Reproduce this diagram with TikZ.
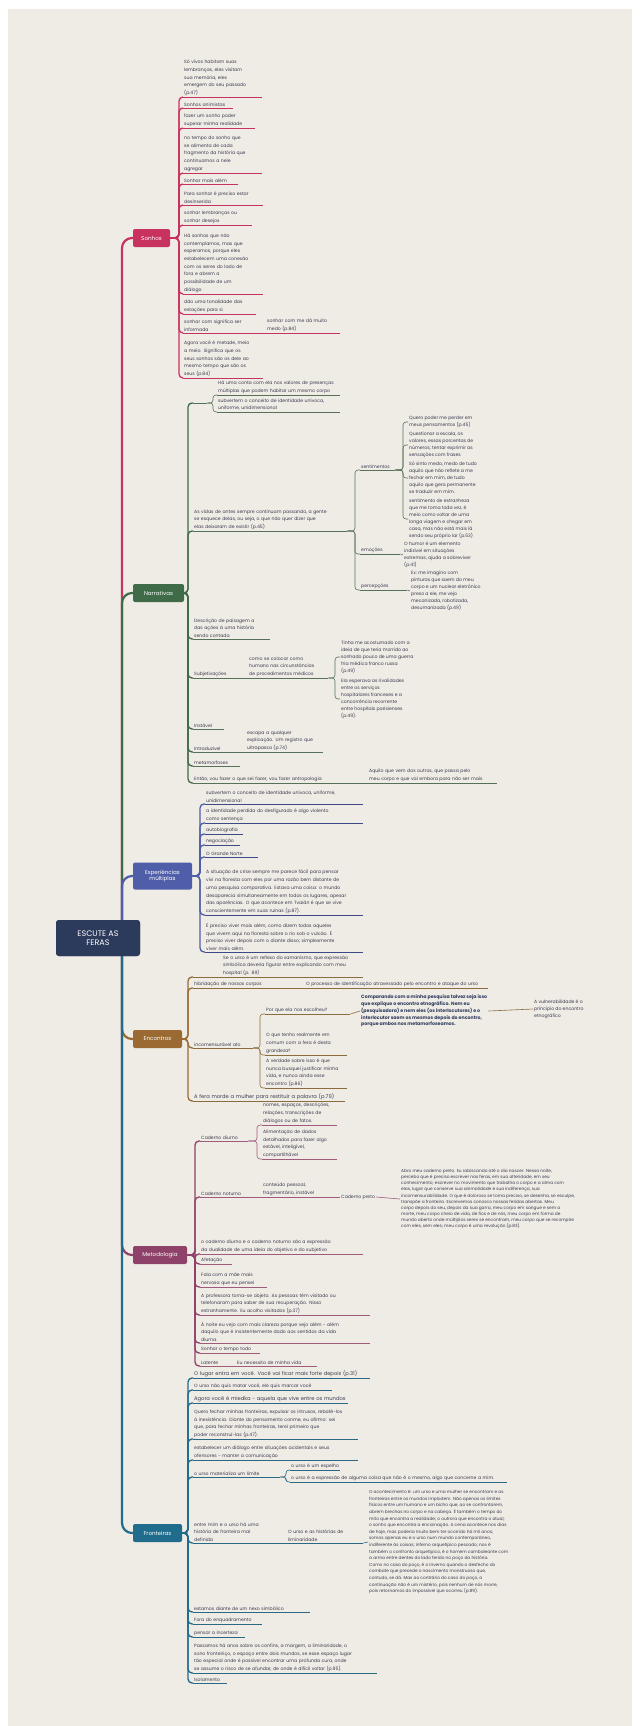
\documentclass[tikz,border=0pt]{standalone}
\usepackage{fontspec}
\setmainfont{Poppins}
\usetikzlibrary{calc}
\definecolor{bg}{HTML}{EFECE6}
\definecolor{txt}{HTML}{3A3A4E}
\definecolor{cS}{HTML}{C8325F}
\definecolor{cN}{HTML}{3F6B49}
\definecolor{cE}{HTML}{4F5EA8}
\definecolor{cC}{HTML}{9A6A32}
\definecolor{cM}{HTML}{8E4169}
\definecolor{cF}{HTML}{1F6C8C}
\definecolor{lN}{HTML}{56705A}
\definecolor{lE}{HTML}{3E4A88}
\definecolor{lC}{HTML}{8A6C3E}
\definecolor{lM}{HTML}{A05A7C}
\definecolor{lF}{HTML}{2B6884}
\definecolor{rootc}{HTML}{2C3A5C}
\newcommand\tx{\fontsize{4.6}{7.7}\selectfont}
\newcommand\tf{\fontsize{4.6}{7.0}\selectfont}
\newcommand\tb{\fontsize{4.3}{6.1}\selectfont}
\newcommand\tl{\fontsize{5.2}{7.7}\selectfont}
\tikzset{
 kid/.style={font=\tx, text=txt, align=left, inner xsep=1pt, inner ysep=1.2pt, anchor=south west},
 ul/.style={line width=0.9pt},
 br/.style={line width=1.3pt, rounded corners=4pt},
 sub/.style={line width=0.6pt, rounded corners=3pt},
 rt/.style={line width=2.2pt, rounded corners=10pt},
 topic/.style={fill=#1, text=white, rounded corners=2pt, font=\fontsize{5.6}{6.6}\selectfont, inner xsep=2pt, inner ysep=2pt, align=center},
 free/.style={font=\tf, text=txt, align=left, inner sep=1pt, anchor=west},
}
\newcommand\kid[6]{\pgfmathsetmacro\kw{#5-#3-2}\node[kid,text width=\kw pt] (#2) at (#3,#4) {#6};\draw[ul,#1] (#2.south west) -- (#2.south east);}
\newcommand\kidb[6]{\pgfmathsetmacro\kw{#5-#3-2}\node[kid,font=\tl,text width=\kw pt] (#2) at (#3,#4) {#6};\draw[ul,#1] (#2.south west) -- (#2.south east);}
\newcommand\con[4]{\draw[#1] (#2) -| ([xshift=-#4pt]#3) -- (#3);}
\begin{document}
\begin{tikzpicture}[x=1pt,y=-1pt]
\useasboundingbox (0,0) rectangle (640,1726);
\fill[white] (0,0) rectangle (640,1726);
\fill[bg] (8,9) rectangle (632,1726);

% ---------- topic boxes ----------
\node[topic=rootc, minimum width=84pt, minimum height=36pt, font=\fontsize{8}{9.6}\selectfont, rounded corners=3pt] (root) at (98,938) {ESCUTE AS\\FERAS};
\draw[rt,cS] ([xshift=24pt]root.center) |- (133,238) coordinate (rS);
\draw[rt,cN] ([xshift=24pt]root.center) |- (133,593) coordinate (rN);
\draw[rt,cE] ([xshift=24pt]root.center) |- (133,876) coordinate (rE);
\draw[rt,cC] ([xshift=24pt]root.center) |- (133,1039) coordinate (rC);
\draw[rt,cM] ([xshift=24pt]root.center) |- (133,1255) coordinate (rM);
\draw[rt,cF] ([xshift=24pt]root.center) |- (133,1533) coordinate (rF);
\node[topic=rootc, minimum width=84pt, minimum height=36pt, font=\fontsize{8}{9.6}\selectfont, rounded corners=3pt] at (98,938) {ESCUTE AS\\FERAS};
\node[topic=cS, minimum width=37pt, minimum height=18pt] (sonhos) at (151.5,238) {Sonhos};
\node[topic=cN, minimum width=51pt, minimum height=18pt] (narr) at (158.5,593) {Narrativas};
\node[topic=cE, minimum width=59pt, minimum height=27pt] (exp) at (162.5,876) {Experiências\\múltiplas};
\node[topic=cC, minimum width=49pt, minimum height=18pt] (enc) at (157.5,1039) {Encontros};
\node[topic=cM, minimum width=54pt, minimum height=18pt] (met) at (160,1255) {Metodologia};
\node[topic=cF, minimum width=49pt, minimum height=18pt] (fro) at (157.5,1533) {Fronteiras};

% ---------- Sonhos ----------
\kid{cS}{s1}{183}{97}{262}{Só vivos habitam suas\\lembranças, eles visitam\\sua memória, eles\\emergem do seu passado\\(p.47)}
\kid{cS}{s2}{183}{108}{233}{Sonhos animistas}
\kid{cS}{s3}{183}{128}{255}{fazer um sonho poder\\superar minha realidade}
\kid{cS}{s4}{183}{173}{262}{no tempo do sonho que\\se alimenta de cada\\fragmento da história que\\continuamos a nele\\agregar}
\kid{cS}{s5}{183}{184}{238}{Sonhar mais além}
\kid{cS}{s6}{183}{205}{263}{Para sonhar é preciso estar\\desinserida}
\kid{cS}{s7}{183}{225}{252}{sonhar lembranças ou\\sonhar desejos}
\kid{cS}{s8}{183}{294}{263}{Há sonhos que não\\contemplamos, mas que\\esperamos, porque eles\\estabelecem uma conexão\\com os seres do lado de\\fora e abrem a\\possibilidade de um\\diálogo}
\kid{cS}{s9}{183}{314}{256}{dão uma tonalidade das\\estações para si}
\kid{cS}{s10}{183}{333}{262}{sonhar com significa ser\\informada}
\kid{cS}{s10a}{266}{333}{340}{sonhar com me dá muito\\medo (p.84)}
\draw[ul,cS] (s10.south east) -- (s10a.south west);
\kid{cS}{s11}{183}{378}{263}{Agora você é metade, meio\\a meio. Significa que os\\seus sonhos são os dele ao\\mesmo tempo que são os\\seus (p.84)}
\foreach \k in {s1,s2,s3,s4,s5,s6,s7,s8,s9,s10,s11}{\con{br,cS}{sonhos.east}{\k.south west}{4}}

% ---------- Narrativas ----------
\kid{lN}{n0}{193}{403}{207}{}
\kid{lN}{n0a}{217}{395}{340}{Há uma conta com ela nos valores de presenças\\múltiplas que podem habitar um mesmo corpo}
\kid{lN}{n0b}{217}{412}{340}{subvertem o conceito de identidade unívoca,\\uniforme, unidimensional}
\con{sub,lN}{n0.south east}{n0a.south west}{4}
\con{sub,lN}{n0.south east}{n0b.south west}{4}
\kid{lN}{n1}{193}{531}{347}{As vidas de antes sempre continuam passando, a gente\\se esquece delas, ou seja, o que não quer dizer que\\elas deixaram de existir (p.45)}
\kid{lN}{n1a}{360}{470}{395}{sentimentos}
\kid{lN}{n1b}{360}{554}{400}{emoções}
\kid{lN}{n1c}{360}{590}{407}{percepções}
\foreach \k in {n1a,n1b,n1c}{\con{sub,lN}{n1.south east}{\k.south west}{5}}
\node[free] (n1a1) at (408,422) {Quero poder me perder em\\meus pensamentos (p.45)};
\node[free] (n1a2) at (408,445) {Questionar a escala, os\\valores, essas porcentas de\\números; tentar exprimir as\\sensações com frases};
\node[free] (n1a3) at (408,478) {Só sinto medo, medo de tudo\\aquilo que não reflete a me\\fechar em mim, de tudo\\aquilo que gera permanente\\se traduzir em mim.};
\node[free] (n1a4) at (408,519) {sentimento de estranheza\\que me toma toda vez, é\\meio como voltar de uma\\longa viagem e chegar em\\casa, mas não está mais lá\\sendo seu próprio lar (p.53)};
\foreach \k in {n1a1,n1a2,n1a3,n1a4}{\con{sub,lN}{n1a.south east}{\k.west}{5}}
\node[free] (n1b1) at (403,555) {O humor é um elemento\\indizível em situações\\extremas; ajuda a sobreviver\\(p.41)};
\draw[sub,lN] (n1b.south east) -- (n1b1.west);
\node[free] (n1c1) at (410,591) {Ex: me imagino com\\pinturas que saem do meu\\corpo e um nuclear eletrônico\\preso a ele, me vejo\\mecanizada, robotizada,\\desumanizada (p.49)};
\draw[sub,lN] (n1c.south east) -- (n1c1.west);
\kid{lN}{n2}{193}{639}{270}{Descrição de paisagem a\\das ações à uma história\\sendo contada}
\kid{lN}{n3}{193}{678}{240}{Subjetivações}
\kid{lN}{n3a}{248}{678}{328}{como se colocar como\\humano nas circunstâncias\\de procedimentos médicos}
\draw[ul,lN] (n3.south east) -- (n3a.south west);
\node[free] (n3a1) at (340,657) {Tinha me acostumado com a\\ideia de que teria morrido ao\\sonhado pouco de uma guerra\\fria médica franco russa\\(p.49)};
\node[free] (n3a2) at (340,699) {Ela esperava as rivalidades\\entre os serviços\\hospitalares franceses e a\\concorrência recorrente\\entre hospitais parisienses\\(p.49).};
\con{sub,lN}{n3a.south east}{n3a1.west}{5}
\con{sub,lN}{n3a.south east}{n3a2.west}{5}
\kid{lN}{n4}{193}{729}{224}{Instável}
\kid{lN}{n5}{193}{752}{240}{Intraduzível}
\kid{lN}{n5a}{246}{752}{323}{escapa a qualquer\\explicação. Um registro que\\ultrapassa (p.74)}
\draw[ul,lN] (n5.south east) -- (n5a.south west);
\kid{lN}{n6}{193}{766}{240}{metamorfoses}
\kid{lN}{n7}{193}{783}{345}{Então, vou fazer o que sei fazer, vou fazer antropologia}
\kid{lN}{n7a}{368}{783}{497}{Aquilo que vem dos outros, que passa pelo\\meu corpo e que vai embora para não ser mais}
\draw[ul,lN] (n7.south east) -- (n7a.south west);
\foreach \k in {n0,n1,n2,n3,n4,n5,n6,n7}{\con{br,cN}{narr.east}{\k.south west}{5}}

% ---------- Experiências múltiplas ----------
\kid{lE}{e1}{205}{804}{363}{subvertem o conceito de identidade unívoca, uniforme,\\unidimensional}
\kid{lE}{e2}{205}{823}{363}{a identidade perdida do desfigurado é algo violento\\como sentença}
\kid{lE}{e3}{205}{834}{243}{autobiografia}
\kid{lE}{e4}{205}{845}{240}{negociação}
\kid{lE}{e5}{205}{857}{258}{O Grande Norte}
\kid{lE}{e6}{205}{915}{363}{A situação de crise sempre me parece fácil para pensar\\vivi na floresta com eles por uma razão bem distante de\\uma pesquisa comparativa. Estava uma coisa: o mundo\\desaparecia simultaneamente em todos os lugares, apesar\\das aparências. O que acontece em Tvaián é que se vive\\conscientemente em suas ruínas (p.87).}
\kid{lE}{e7}{205}{952}{363}{É preciso viver mais além, como dizem todos aqueles\\que vivem aqui na floresta sobre o rio sob o vulcão. É\\preciso viver depois com o diante disso; simplesmente\\viver mais além.}
\foreach \k in {e1,e2,e3,e4,e5,e6,e7}{\con{br,cE}{exp.east}{\k.south west}{5}}

% ---------- Encontros ----------
\node[kid,text width=139pt] (c1) at (222,977) {Se o urso é um reflexo do xamanismo, que expressão\\simbólica deveria figurar entre explicando com meu\\hospital (p. 89)};
\coordinate (c1s) at ([xshift=-29pt]c1.south west);
\draw[ul,lC] (c1s) -- (c1.south east);
\kid{lC}{c2}{193}{988}{268}{hibridação de nossos corpos}
\kid{lC}{c2a}{305}{988}{488}{O processo de identificação atravessado pelo encontro e ataque do urso}
\draw[ul,lC] (c2.south east) -- (c2a.south west);
\kid{lC}{c3}{193}{1048}{253}{incomensurável ato}
\kid{lC}{c3a}{265}{1014}{350}{Por que ela nos escolheu?}
\kid{lC}{c3b}{265}{1055}{347}{O que tenho realmente em\\comum com a fera é desta\\grandeza?}
\kid{lC}{c3c}{265}{1088}{347}{A verdade sobre isso é que\\nunca busquei justificar minha\\vida, e nunca ainda esse\\encontro (p.86)}
\foreach \k in {c3a,c3b,c3c}{\con{sub,lC}{c3.south east}{\k.south west}{5}}
\node[free, font=\fontsize{4.7}{6.8}\selectfont\bfseries, text=rootc] (c3a1) at (360,1011) {Comparando com a minha pesquisa talvez seja isso\\que explique o encontro etnográfico. Nem eu\\(pesquisadora) e nem eles (os interlocutores) e o\\interlocutor saem os mesmos depois do encontro,\\porque ambos nos metamorfoseamos.};
\draw[sub,lC] (c3a.south east) -- (c3a1.west);
\node[free] (c3a2) at (533,1009) {A vulnerabilidade é o\\princípio do encontro\\etnográfico};
\draw[sub,lC] (c3a1.east) -- (c3a2.west);
\kidb{lC}{c4}{193}{1101}{345}{A fera morde a mulher para restituir a palavra (p.79)}
\foreach \k in {c1s,c2.south west,c3.south west,c4.south west}{\con{br,cC}{enc.east}{\k}{5}}

% ---------- Metodologia ----------
\kid{lM}{m1}{200}{1141}{248}{Caderno diurno}
\kid{lM}{m1a}{262}{1125}{337}{nomes, espaços, descrições,\\relações, transcrições de\\diálogos ou de fatos.}
\kid{lM}{m1b}{262}{1159}{337}{Alimentação de dados\\detalhados para fazer algo\\estável, inteligível,\\compartilhável}
\con{sub,lM}{m1.south east}{m1a.south west}{5}
\con{sub,lM}{m1.south east}{m1b.south west}{5}
\kid{lM}{m2}{200}{1197}{250}{Caderno noturno}
\kid{lM}{m2a}{262}{1197}{328}{conteúdo pessoal,\\fragmentário, instável}
\draw[ul,lM] (m2.south east) -- (m2a.south west);
\node[free] (m2b) at (340,1197) {Caderno preto};
\draw[sub,lM] (m2a.south east) -- (m2b.west);
\node[free, font=\tb] (m2b1) at (400,1199) {Abro meu caderno preto. Eu rabiscando até o dia nascer. Nessa noite,\\percebo que é preciso escrever nas feras, em sua alteridade, em seu\\conhecimento; escrever no movimento que trabalha o corpo e a alma com\\elas, lugar que conserve sua animalidade e sua indiferença, sua\\incomensurabilidade. O que é doloroso se torna preciso, se desenha, se esculpe,\\transpõe a fronteira. Escrevemos conosco nossas feridas abertas. Meu\\corpo depois do seu, depois da sua garra, meu corpo em sangue e sem a\\morte, meu corpo cheio de vida, de fios e de nós, meu corpo em forma de\\mundo aberto onde múltiplos seres se encontram, meu corpo que se recompõe\\com eles, sem eles; meu corpo é uma revolução (p.83).};
\draw[sub,lM] (m2b.east) -- (m2b1.west);
\kid{lM}{m3}{200}{1254}{363}{o caderno diurno e o caderno noturno são a expressão\\da dualidade de uma ideia do objetivo e do subjetivo}
\kid{lM}{m4}{200}{1264}{232}{Afetação}
\kid{lM}{m5}{200}{1287}{267}{Fala com a mãe mais\\nervosa que eu pensei}
\kid{lM}{m6}{200}{1315}{370}{A professora torna-se objeto. As pessoas têm visitado ou\\telefonaram para saber de sua recuperação. Nisso\\estranhamente. Eu acolho visitados (p.37)}
\kid{lM}{m7}{200}{1343}{370}{À noite eu vejo com mais clareza porque vejo além - além\\daquilo que é insistentemente dado aos sentidos da vida\\diurna.}
\kid{lM}{m8}{200}{1353}{260}{Sonhar o tempo todo}
\kid{lM}{m9}{200}{1366}{222}{Latente}
\kid{lM}{m9a}{236}{1366}{317}{Eu necessito de minha vida}
\draw[ul,lM] (m9.south east) -- (m9a.south west);
\foreach \k in {m1,m2,m3,m4,m5,m6,m7,m8,m9}{\con{br,cM}{met.east}{\k.south west}{5}}

% ---------- Fronteiras ----------
\kidb{lF}{f1}{193}{1378}{370}{O lugar entra em você. Você vai ficar mais forte depois (p.31)}
\kid{lF}{f2}{193}{1390}{332}{O urso não quis matar você, ele quis marcar você}
\kidb{lF}{f3}{193}{1403}{348}{Agora você é miedka - aquela que vive entre os mundos}
\kid{lF}{f4}{193}{1439}{358}{Quero fechar minhas fronteiras, expulsar os intrusos, rebatê-los\\à inexistência. Diante do pensamento conme, eu afirmo: sei\\que, para fechar minhas fronteiras, terei primeiro que\\poder reconstruí-las (p.47).}
\kid{lF}{f5}{193}{1460}{358}{estabelecer um diálogo entre situações acidentais e seus\\ofensores - manter a comunicação}
\kid{lF}{f6}{193}{1477}{280}{o urso materializa um limite}
\kid{lF}{f6a}{290}{1470}{340}{o urso é um espelho}
\kid{lF}{f6b}{290}{1482}{507}{o urso é a expressão de alguma coisa que não é o mesmo, algo que concerne a mim.}
\con{sub,lF}{f6.south east}{f6a.south west}{4}
\con{sub,lF}{f6.south east}{f6b.south west}{4}
\kid{lF}{f7}{193}{1543}{283}{entre mim e o urso há uma\\história de fronteira mal\\definida}
\kid{lF}{f7a}{287}{1543}{363}{O urso e as histórias de\\liminaridade}
\draw[ul,lF] (f7.south east) -- (f7a.south west);
\node[free, font=\fontsize{4.3}{6.6}\selectfont] (f7b) at (368,1542) {O acontecimento é: um urso e uma mulher se encontram e as\\fronteiras entre os mundos implodem. Não apenas os limites\\físicos entre um humano e um bicho que, ao se confrontarem,\\abrem brechas no corpo e na cabeça. É também o tempo do\\mito que encontra a realidade; o outrora que encontra o atual;\\o sonho que encontra a encarnação. A cena acontece nos dias\\de hoje, mas poderia muito bem ter ocorrido há mil anos;\\somos apenas eu e o urso num mundo contemporâneo,\\indiferente às coisas; inferno arquetípico pescado; nos é\\também o confronto arquetípico, é o homem cambaleante com\\a arma entre dentes do lado ferido no poço da história.\\Como no caso do poço, é o inverno quando o desfecho do\\combate que precede o nascimento monstruoso que,\\contudo, se dá. Mas ao contrário do caso do poço, a\\continuação não é um mistério, pois nenhum de nós morre,\\pois retornamos do impossível que ocorreu (p.89).};
\draw[sub,lF] (f7a.south east) -- (f7b.west);
\kid{lF}{f8}{193}{1612}{310}{estamos diante de um nexo simbólico}
\kid{lF}{f9}{193}{1624}{262}{Fora do enquadramento}
\kid{lF}{f10}{193}{1637}{245}{pensar a incerteza}
\kid{lF}{f11}{193}{1673}{377}{Passamos há anos sobre os confins, a margem, a liminaridade, o\\sono fronteiriço, o espaço entre dois mundos, se esse espaço lugar\\tão especial onde é possível encontrar uma profunda cura, onde\\se assume o risco de se afundar, de onde é difícil voltar (p.95).}
\kid{lF}{f12}{193}{1683}{227}{Isolamento}
\foreach \k in {f1,f2,f3,f4,f5,f6,f7,f8,f9,f10,f11,f12}{\con{br,cF}{fro.east}{\k.south west}{5}}
\end{tikzpicture}
\end{document}
